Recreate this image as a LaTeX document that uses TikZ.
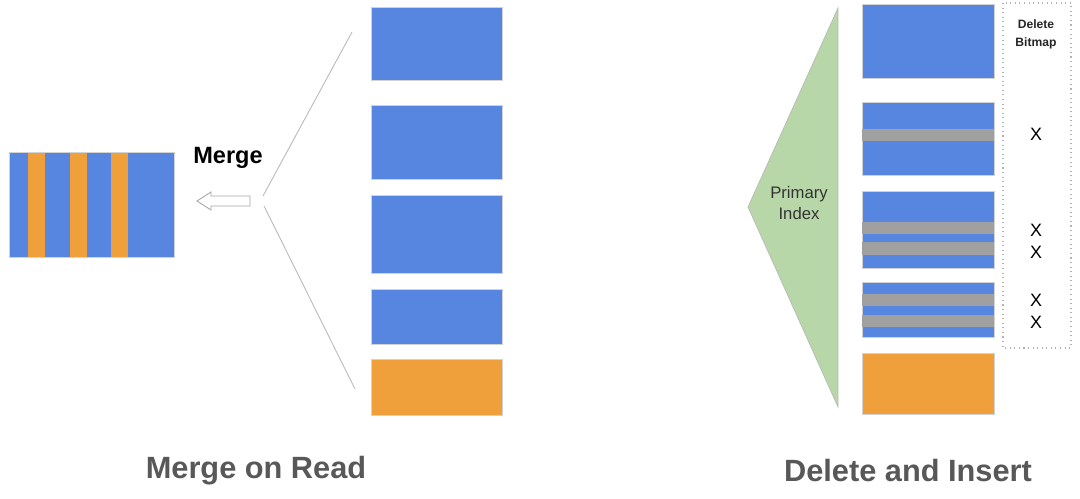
\documentclass[tikz,border=0pt]{standalone}
\usepackage{fontspec}
\setmainfont{Liberation Sans}
\usetikzlibrary{positioning}
\definecolor{blockblue}{RGB}{86,134,224}
\definecolor{blockorange}{RGB}{240,160,58}
\definecolor{delgray}{RGB}{160,160,160}
\definecolor{indexgreen}{RGB}{184,215,169}
\definecolor{titlegray}{RGB}{88,88,88}

\begin{document}
\begin{tikzpicture}[x=0.02cm, y=-0.02cm,
  blk/.style={draw=gray!35, line width=0.3pt},
  title/.style={text=titlegray, font=\fontsize{17.5}{20}\selectfont\bfseries}]
  \useasboundingbox (0,0) rectangle (1080,498);
  % merged result
  \fill[blockblue] (9,152) rectangle (174,257);
  \foreach \x in {28,70,111} {
    \fill[blockorange] (\x,152) rectangle (\x+17,257);
  }
  \draw[gray!35, line width=0.3pt] (9,152) rectangle (174,257);
  \node (merge) at (228,158) {\fontsize{13.4}{15}\selectfont\bfseries Merge};
  \draw[gray!70, line width=0.5pt, fill=white] (250,196) -- (211,196) -- (211,192) -- (197,201)
    -- (211,210) -- (211,206) -- (250,206) -- cycle;
  % fan out to the files
  \coordinate (fanA) at (263,196);
  \coordinate (fanB) at (264,206);
  \coordinate (topL) at (352,32);
  \coordinate (botL) at (355,389);
  \draw[gray!55, line width=0.5pt] (fanA) -- (topL);
  \draw[gray!55, line width=0.5pt] (fanB) -- (botL);
  \foreach \t/\b in {7/80, 105/179, 195/273, 289/344} {
    \fill[blockblue, blk] (371,\t) rectangle (502,\b);
  }
  \fill[blockorange, blk] (371,359) rectangle (502,415);
  % primary index
  \filldraw[fill=indexgreen, draw=gray!55, line width=0.4pt] (748,207) -- (838,8) -- (838,407) -- cycle;
  \node[align=center, text=black!80, font=\fontsize{9.5}{12}\selectfont] (pidx) at (799,203) {Primary\\Index};
  \foreach \t/\b in {4/78, 102/175, 191/268, 282/337} {
    \fill[blockblue, blk] (862,\t) rectangle (994,\b);
  }
  % deleted rows
  \foreach \t/\b in {129/141, 222/234, 242/255, 294/306, 315/327} {
    \fill[delgray] (862,\t) rectangle (994,\b);
  }
  \fill[blockorange, blk] (862,353) rectangle (994,414);
  % delete bitmap
  \draw[gray!60, dotted, line width=0.6pt] (1003,3) rectangle (1071,348);
  \node[align=center, font=\fontsize{6.9}{10.2}\selectfont\bfseries, text=black!85] (bitmap) at (1036,34) {Delete\\Bitmap};
  \foreach \y in {134,230,252,300,322} {
    \node[font=\fontsize{10.2}{11}\selectfont] (x\y) at (1036,\y) {X};
  }
  \node[title] (mor) at (256,471) {Merge on Read};
  \node[title] (dai) at (908,471) {Delete and Insert};
\end{tikzpicture}
\end{document}
